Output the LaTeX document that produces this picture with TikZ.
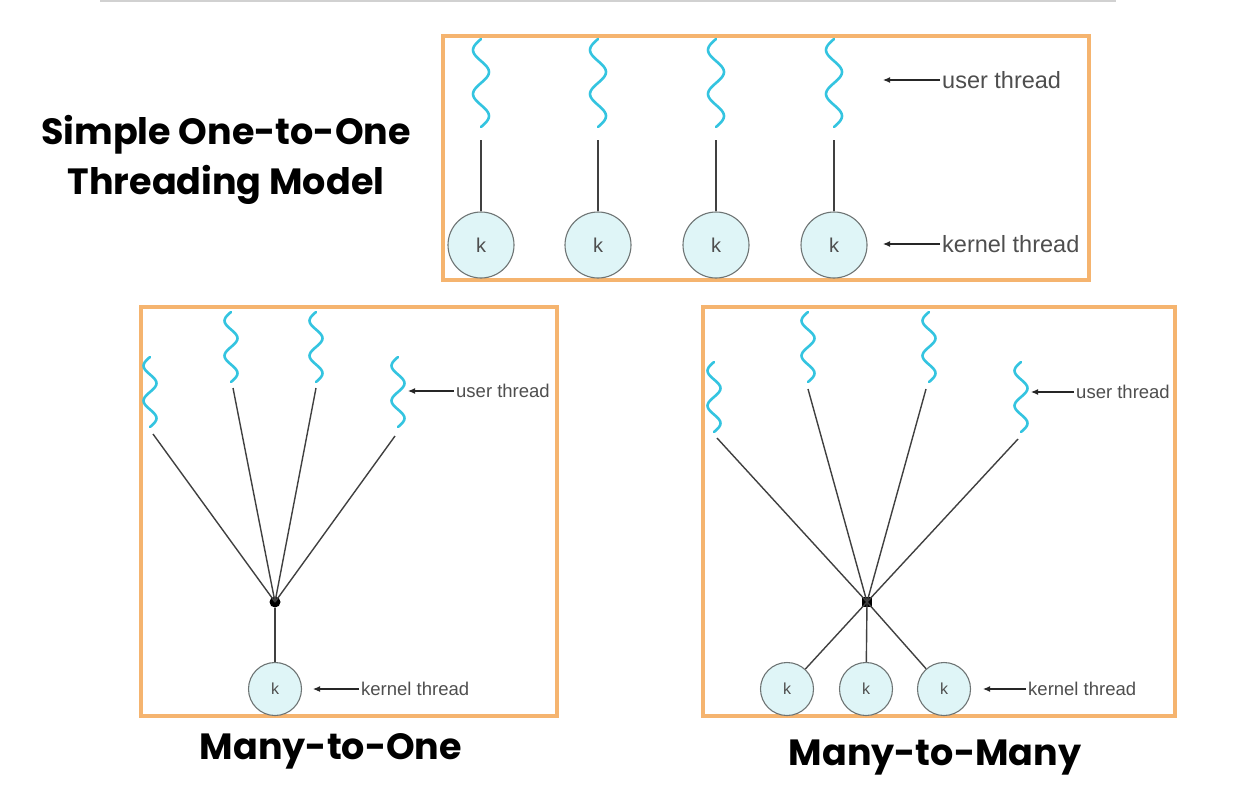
\documentclass[tikz,border=0pt]{standalone}
\usepackage{fontspec}
\setmainfont{Liberation Sans}
\newfontfamily\titelfont{Poppins}
\usetikzlibrary{arrows.meta,positioning}
\definecolor{rahm}{HTML}{F5B46F}
\definecolor{welle}{HTML}{34C4E0}
\definecolor{kfill}{HTML}{DFF5F7}
\definecolor{kdraw}{HTML}{6E7474}
\definecolor{txtg}{HTML}{4E4E4E}
\tikzset{
  rahmen/.style={draw=rahm,line width=4pt},
  uwelle/.style={welle,line width=2.6pt,line cap=round,smooth},
  kreis/.style={circle,draw=kdraw,fill=kfill,line width=1.1pt,inner sep=0pt},
  kgross/.style={kreis,minimum size=66pt,font=\fontsize{20}{20}\selectfont\color{txtg}},
  kklein/.style={kreis,minimum size=53pt,font=\fontsize{16}{16}\selectfont\color{txtg}},
  verb/.style={black!75,line width=1.4pt},
  pfeil/.style={-{Latex[length=7pt,width=6pt]},black!85,line width=1.1pt},
  lgross/.style={anchor=west,inner sep=2pt,text=txtg,font=\fontsize{23.5}{24}\selectfont},
  lklein/.style={anchor=west,inner sep=2pt,text=txtg,font=\fontsize{18.5}{19}\selectfont},
  titel/.style={align=center,font=\titelfont\bfseries\fontsize{36.5}{50}\selectfont},
  knoten/.style={fill=black,inner sep=0pt},
}
\begin{document}
\begin{tikzpicture}[x=1pt,y=-1pt]
  \useasboundingbox (0,0) rectangle (1238,795);
  \draw[black!18,line width=2pt] (100,1)--(1116,1);
  % one-to-one
  \draw[rahmen] (443,36) rectangle (1089,280);
  \node[titel] (t1) at (226,160) {Simple One-to-One\\Threading Model};
  \foreach \i/\x in {1/481,2/598,3/716,4/834}{
    \draw[uwelle] plot[domain=0:1,samples=49,variable=\t] ({\x-8*sin(720*\t)},{39+88*\t});
    \coordinate (o\i) at (\x,140);
    \node[kgross] (ok\i) at (\x,245) {k};
    \draw[verb] (o\i)--(ok\i);
  }
  \node[lgross] (ou) at (940,80) {user thread};
  \node[lgross] (ok) at (940,244) {kernel thread};
  \coordinate (oup) at (883,80); \coordinate (okp) at (883,244);
  \draw[pfeil] (ou.west)--(oup);
  \draw[pfeil] (ok.west)--(okp);
  % many-to-one
  \draw[rahmen] (141,307) rectangle (557,716);
  \node[titel] (t2) at (331,751) {Many-to-One};
  \foreach \i/\x/\ya/\xe/\ye in {1/150/357/153/434,2/231/312/233/388,3/316/312/316/388,4/398/357/395/436}{
    \draw[uwelle] plot[domain=0:1,samples=41,variable=\t] ({\x-6.5*sin(720*\t)},{\ya+70*\t});
    \coordinate (m\i) at (\xe,\ye);
  }
  \node[knoten,circle,minimum size=11pt] (mj) at (275,602) {};
  \node[kklein] (mk) at (275,689) {k};
  \foreach \i in {1,...,4} \draw[verb] (m\i)--(mj.center);
  \draw[verb] (mj)--(mk);
  \node[lklein] (mu) at (454,391) {user thread};
  \node[lklein] (mkl) at (359,689) {kernel thread};
  \coordinate (mup) at (408,391); \coordinate (mkp) at (313,689);
  \draw[pfeil] (mu.west)--(mup);
  \draw[pfeil] (mkl.west)--(mkp);
  % many-to-many
  \draw[rahmen] (703,307) rectangle (1175,716);
  \node[titel] (t3) at (935,758) {Many-to-Many};
  \foreach \i/\x/\ya/\xe/\ye in {1/714/362/717/438,2/808/312/808/389,3/929/312/926/389,4/1021/362/1018/439}{
    \draw[uwelle] plot[domain=0:1,samples=41,variable=\t] ({\x-6.5*sin(720*\t)},{\ya+70*\t});
    \coordinate (n\i) at (\xe,\ye);
  }
  \node[knoten,minimum size=10pt] (nj) at (867,602) {};
  \foreach \i/\x in {1/787,2/866,3/944}{
    \node[kklein] (nk\i) at (\x,689) {k};
    \draw[verb] (nj.center)--(nk\i);
  }
  \foreach \i in {1,...,4} \draw[verb] (n\i)--(nj.center);
  \node[lklein] (nu) at (1074,392) {user thread};
  \node[lklein] (nkl) at (1026,689) {kernel thread};
  \coordinate (nup) at (1031,392); \coordinate (nkp) at (983,689);
  \draw[pfeil] (nu.west)--(nup);
  \draw[pfeil] (nkl.west)--(nkp);
\end{tikzpicture}
\end{document}
